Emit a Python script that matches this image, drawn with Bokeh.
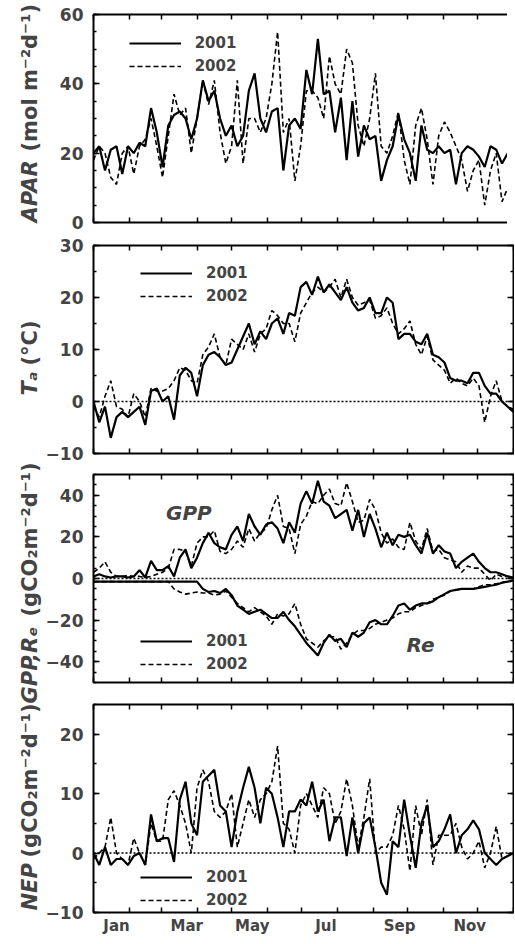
import math
from bokeh.plotting import figure
from bokeh.models import (Range1d, FixedTicker, LinearAxis, Span, Legend, LegendItem,
                          Label, CustomJSTickFormatter)
from bokeh.layouts import column, row
from bokeh.embed import file_html
from bokeh.resources import INLINE

# ---------------- data (day of year, 5-day steps) ----------------
DAYS = list(range(0, 366, 5))

apar_2001 = [20, 22, 15, 21, 22, 14, 22, 20, 23, 22,
             33, 26, 16, 28, 31, 32, 30, 24, 30, 41,
             35, 38, 30, 25, 28, 22, 25, 38, 43, 30,
             26, 32, 33, 15, 28, 30, 27, 44, 37, 53,
             37, 38, 26, 36, 18, 35, 19, 28, 24, 25,
             12, 18, 22, 31, 24, 20, 12, 28, 21, 20,
             22, 20, 21, 11, 20, 22, 21, 19, 16, 22,
             21, 17, 20, 20]
apar_2002 = [18, 22, 20, 13, 11, 20, 22, 14, 22, 24,
             30, 22, 13, 25, 37, 31, 33, 20, 30, 41,
             34, 41, 26, 17, 22, 41, 17, 30, 30, 26,
             30, 40, 55, 26, 30, 12, 22, 38, 38, 36,
             30, 48, 40, 37, 50, 46, 28, 22, 30, 43,
             22, 20, 25, 32, 18, 11, 28, 33, 24, 11,
             25, 29, 26, 22, 18, 9, 15, 18, 5, 15,
             20, 6, 10, 12]

ta_2001 = [0, -4, -1, -7, -3, -2, -3, -2, -1, -4.5,
           2, 2.5, 0, 1, -3.5, 5, 6.5, 5.5, 1, 7,
           9, 9.5, 8.5, 7, 7.5, 10, 12.5, 15, 11, 13.5,
           12, 15, 16, 13, 17, 16.5, 22, 23, 20.5, 24,
           21, 22.5, 21, 19.5, 22, 19, 17.5, 18, 20, 17,
           17, 20, 19, 12, 13, 13, 11.5, 11, 13, 9,
           8.5, 7.5, 4.5, 4, 4, 3.5, 5.5, 5.5, 3, 1.5,
           1.5, 0, -1, -2]
ta_2002 = [-1, -3, 1, 4, -1, -1.5, -3, 1.5, 0, -3,
           2.5, 2, 2, 2.5, 4, 6.5, 6, 4, 3.5, 9,
           10.5, 13, 8.5, 7, 12, 11, 10, 13, 9.5, 13,
           14, 17.5, 16.5, 15, 15, 11.5, 17, 19, 21, 22,
           21, 22, 23.5, 20, 23.5, 20, 18.5, 19, 19.5, 16,
           16.5, 18, 15, 13, 14, 15.5, 11, 9, 12.5, 8,
           7, 6, 3.5, 4.5, 3.5, 3, 4.5, 3, -4, 1,
           4, 0, -1, -1.5]

gpp_2001 = [1, 2, 1, 0.5, 1, 1, 0.5, 1, 4, 0.5,
            8.5, 4, 4, 6, 1, 10, 14, 5, 10, 17,
            22, 17, 15, 14, 21, 25, 18, 31, 25, 21,
            26, 27, 24, 17, 27, 22, 36, 42, 36, 47,
            37, 35, 29, 31, 33, 23, 33, 20, 31, 24,
            15, 22, 16, 21, 20, 21, 16, 12, 22, 12,
            16, 13, 12, 5, 8, 10, 12, 8, 5, 3,
            3, 2, 1, 0.5]
gpp_2002 = [3, 5, 8, 3, 1, 1, 1.5, 1, 1, 0.5,
            1, 2, 3, 5, 14, 14, 13, 6, 17, 20,
            20, 23, 13, 12, 14, 18, 15, 24, 18, 22,
            24, 33, 40, 25, 24, 12, 26, 30, 37, 36,
            40, 43, 36, 35, 46, 37, 27, 28, 38, 33,
            22, 17, 19, 15, 14, 27, 18, 14, 24, 13,
            14, 10, 9, 8, 3, 6, 5, 5, 2, -1,
            2, 1, 1, 0.5]

re_2001 = [-1.5, -1.5, -1.5, -1.5, -1.5, -1.5, -1.5, -1.5, -1.5, -1.5,
           -1.5, -1.5, -1.5, -1.5, -1.5, -1.5, -1.5, -1.5, -1.5, -5,
           -6.5, -6, -7, -5, -8, -13, -15, -17, -16, -15,
           -17, -19, -19, -16, -20, -23, -27, -31, -34, -37,
           -31, -27, -30, -29, -33, -26, -28, -26, -21, -20,
           -22, -22, -18, -13, -12, -15, -13, -12, -12, -11,
           -9, -7.5, -6, -5.5, -5, -5, -5, -4.5, -4, -3.5,
           -3, -2, -1.5, -1]
re_2002 = [-1.5, -1.5, -1.5, -1.5, -1.5, -1.5, -1.5, -1.5, -1.5, -1.5,
           -1.5, -1.5, -1.5, -1.5, -5, -6.5, -7.5, -7, -6.5, -7,
           -7, -8, -7.5, -6, -9, -12, -14, -16, -14, -16,
           -18, -22, -17, -18, -17, -12, -22, -29, -31, -33,
           -30, -28, -28, -34, -31, -27, -25, -25, -24, -22,
           -21, -20, -19, -17, -16, -16, -14, -13, -12, -10,
           -9, -8, -6, -5.5, -5, -5, -5, -4, -3, -3,
           -2.5, -2, -1.5, -1]

nep_2001 = [0, -2, 1, -2, -1, -1, -2, -0.5, 0, -2,
            6.5, 2, 2.5, 2.5, -1.5, 9, 12, 5, 3, 12,
            13, 14, 8, 7, 1, 7, 11, 14.5, 11, 5,
            11, 10, 6, 1, 7, 7, 9, 8, 12, 7,
            9, 2, 6, 6, -0.5, 6, 0, 5, 6, 1,
            -5, -7, 2, 1, 9, 3, -2.5, 5, 8, 1,
            2, 4, 6.5, 0, 3, 4, 5.5, 4, 0, -1,
            -2, -1, -0.5, 0]
nep_2002 = [-1, 0, 1, 6, 0, -1, -2, 2.5, 0, -2,
            5, 2, 2, 9, 10.5, 8, 5, 0, 11, 14,
            12, 7, 6, 7, 10, 1, 5, 9, 6, 9,
            10, 12, 18, 5, 4, 0, 8, 10, 8, 6,
            11, 10, 5, 7, 12.5, 8, 1, 6, 12.5, 0,
            1, 1, 3, 8, 4, -3, 8, 3, 9, -2,
            3, 3, 3, 5, 1, -1, 0, 2, -2.5, 0,
            4.5, -1, -0.5, 0]

MONTH_STARTS = [0, 31, 59, 90, 120, 151, 181, 212, 243, 273, 304, 334, 365]
MONTH_LABEL_POS = [20, 81, 138, 202, 266, 327]
MONTH_LABELS = ["Jan", "Mar", "May", "Jul", "Sep", "Nov"]
YEARS = ["2001", "2002"]

FONT = "DejaVu Sans"
EMPTY = "return ''"


def hidden_axis(ticker, tick_in, minor_in=0):
    return LinearAxis(ticker=ticker, axis_line_color=None,
                      major_tick_in=tick_in, major_tick_out=0,
                      minor_tick_in=minor_in, minor_tick_out=0,
                      major_tick_line_width=1.5, minor_tick_line_width=1.5,
                      major_label_text_font_size="0px", major_label_standoff=0,
                      formatter=CustomJSTickFormatter(code=EMPTY))


def panel(ymin, ymax, major, btop, bbottom, last=False):
    p = figure(frame_width=420, frame_height=208,
               x_range=Range1d(0, 365), y_range=Range1d(ymin, ymax),
               output_backend="svg", toolbar_location=None, title=None,
               x_axis_type=None, y_axis_type=None,
               min_border_left=44, min_border_right=1,
               min_border_top=btop, min_border_bottom=bbottom)
    p.outline_line_color = "black"
    p.outline_line_width = 2
    minor = list(range(ymin, ymax + 1, 5))
    yl = LinearAxis(ticker=FixedTicker(ticks=major, minor_ticks=minor),
                    axis_line_color=None,
                    major_tick_in=6, major_tick_out=0,
                    minor_tick_in=3, minor_tick_out=0,
                    major_tick_line_width=1.5, minor_tick_line_width=1.5,
                    major_label_text_font=FONT, major_label_text_font_style="bold",
                    major_label_text_font_size="17px", major_label_standoff=10)
    p.add_layout(yl, "left")
    p.add_layout(hidden_axis(FixedTicker(ticks=major, minor_ticks=minor), 6, 3), "right")
    p.add_layout(hidden_axis(FixedTicker(ticks=MONTH_STARTS), 5), "above")
    if last:
        xb = LinearAxis(ticker=FixedTicker(ticks=MONTH_LABEL_POS, minor_ticks=MONTH_STARTS),
                        axis_line_color=None,
                        major_tick_in=0, major_tick_out=0,
                        minor_tick_in=5, minor_tick_out=0,
                        minor_tick_line_width=1.5,
                        major_label_overrides={d: m for d, m in zip(MONTH_LABEL_POS, MONTH_LABELS)},
                        major_label_text_font=FONT, major_label_text_font_style="bold",
                        major_label_text_font_size="15px", major_label_standoff=4)
        p.add_layout(xb, "below")
    else:
        p.add_layout(hidden_axis(FixedTicker(ticks=MONTH_STARTS), 5), "below")
    return p


def add_series(p, s1, s2):
    r2 = p.line(DAYS[:len(s2)], s2, line_color="black", line_width=1.6, line_dash="5 3")
    r1 = p.line(DAYS[:len(s1)], s1, line_color="black", line_width=2.2)
    return r1, r2


def add_legend(p, r1, r2, y):
    leg = Legend(items=[LegendItem(label=YEARS[0], renderers=[r1]),
                        LegendItem(label=YEARS[1], renderers=[r2])],
                 location=(47, y), orientation="vertical",
                 padding=0, margin=0, spacing=3,
                 glyph_width=52, glyph_height=20, label_height=20,
                 label_standoff=14,
                 label_text_font=FONT, label_text_font_style="bold",
                 label_text_font_size="15px",
                 border_line_color=None, background_fill_alpha=0)
    p.add_layout(leg)


def zero_line(p):
    p.add_layout(Span(location=0, dimension="width", line_color="black",
                      line_width=1.5, line_dash="2 2"))


# Panel 1: APAR
p1 = panel(0, 60, [0, 20, 40, 60], 14, 11)
a1, a2 = add_series(p1, apar_2001, apar_2002)
add_legend(p1, a1, a2, 146)

# Panel 2: Ta
p2 = panel(-10, 30, [-10, 0, 10, 20, 30], 12, 10)
zero_line(p2)
t1, t2 = add_series(p2, ta_2001, ta_2002)
add_legend(p2, t1, t2, 147)

# Panel 3: GPP and Re
p3 = panel(-50, 50, [-40, -20, 0, 20, 40], 11, 11)
zero_line(p3)
g1, g2 = add_series(p3, gpp_2001, gpp_2002)
add_series(p3, re_2001, re_2002)
add_legend(p3, g1, g2, 8)
p3.add_layout(Label(x=63, y=31.7, text="GPP", text_font=FONT, text_font_style="bold italic",
                    text_font_size="20px", text_align="left", text_baseline="middle"))
p3.add_layout(Label(x=272, y=-32.2, text="Re", text_font=FONT, text_font_style="bold italic",
                    text_font_size="20px", text_align="left", text_baseline="middle"))

# Panel 4: NEP
p4 = panel(-10, 25, [-10, 0, 10, 20], 11, 22, last=True)
zero_line(p4)
n1, n2 = add_series(p4, nep_2001, nep_2002)
add_legend(p4, n1, n2, 2)

# ---------------- y-axis titles (separate strip) ----------------
lab = figure(width=42, height=934, x_range=Range1d(0, 42), y_range=Range1d(934, 0),
             output_backend="svg", toolbar_location=None, title=None,
             x_axis_type=None, y_axis_type=None, min_border=0)
lab.outline_line_color = None

YLABEL_PARTS = [
    ("APAR", "bold italic", 230),
    ("(mol m\u207b\u00b2d\u207b\u00b9)", "bold", 159),
    ("T\u2090", "bold italic", 403),
    ("(\u00b0C)", "bold", 373),
    ("GPP,R\u2091", "bold italic", 711),
    ("(gCO\u2082m\u207b\u00b2d\u207b\u00b9)", "bold", 624),
    ("NEP", "bold italic", 918),
    ("(gCO\u2082m\u207b\u00b2d\u207b\u00b9)", "bold", 865),
]
for txt, style, ystart in YLABEL_PARTS:
    lab.add_layout(Label(x=29, y=ystart - 8, text=txt, angle=math.pi / 2,
                         text_font=FONT, text_font_style=style, text_font_size="21px",
                         text_align="left", text_baseline="middle"))

layout = row(lab, column(p1, p2, p3, p4))
open("out.html", "w").write(file_html(layout, INLINE))
